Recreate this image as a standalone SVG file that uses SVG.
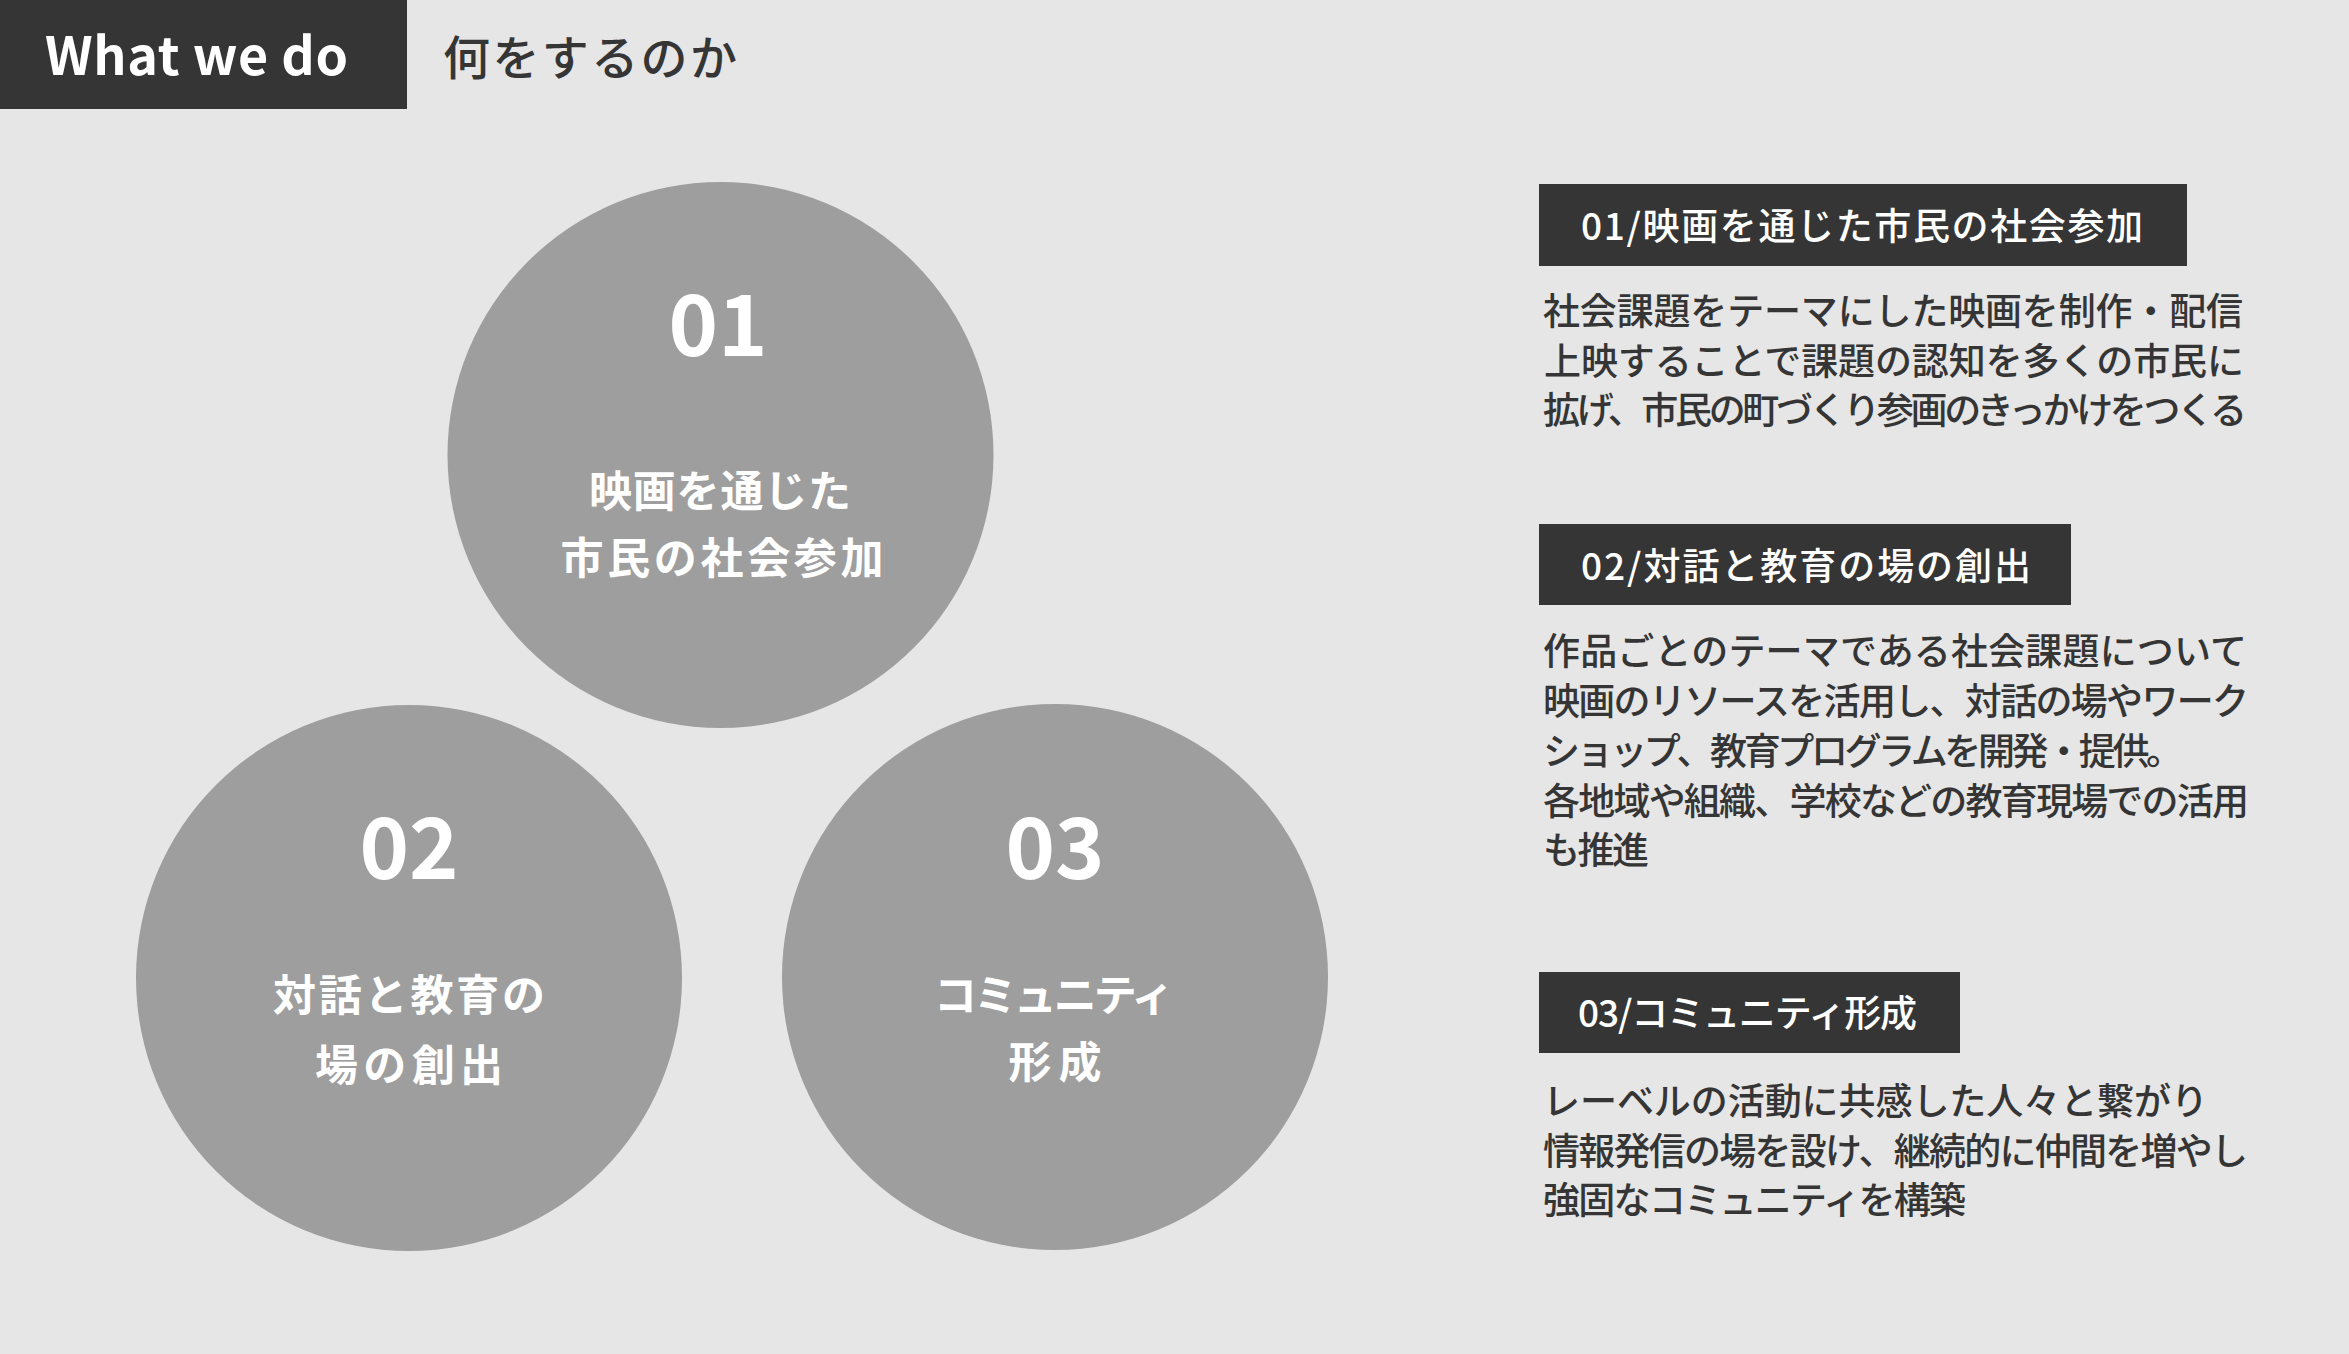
<svg xmlns="http://www.w3.org/2000/svg" width="2349" height="1354" viewBox="0 0 2349 1354">
<style>
text{font-family:"Noto Sans CJK JP","Noto Sans",sans-serif;}
.bg{fill:#e6e6e6;}
.dark{fill:#353535;}
.circ{fill:#9e9e9e;}
.num{fill:#ffffff;font-size:84px;font-weight:700;text-anchor:middle;}
.ctext{fill:#ffffff;font-size:43px;font-weight:700;text-anchor:middle;}
.label{fill:#ffffff;font-size:37px;font-weight:500;}
.body{fill:#353535;font-size:37px;font-weight:500;}
.title-en{fill:#ffffff;font-size:52px;font-weight:700;}
.title-ja{fill:#353535;font-size:47px;font-weight:500;}
</style>
<rect class="bg" x="0" y="0" width="2349" height="1354"/>

<g id="header">
  <rect class="dark" x="0" y="0" width="407" height="109"/>
  <text class="title-en" x="45" y="75" textLength="303" lengthAdjust="spacing">What we do</text>
  <text class="title-ja" x="443" y="75" textLength="294" lengthAdjust="spacing">何をするのか</text>
</g>

<g id="connectors"></g>

<g id="circle-01">
  <circle class="circ" cx="720.5" cy="455" r="273"/>
  <text class="num" x="718" y="356">01</text>
  <text class="ctext" x="720" y="507" textLength="262" lengthAdjust="spacing">映画を通じた</text>
  <text class="ctext" x="722" y="574" textLength="323" lengthAdjust="spacing">市民の社会参加</text>
</g>

<g id="circle-02">
  <circle class="circ" cx="409" cy="978" r="273"/>
  <text class="num" x="409" y="879">02</text>
  <text class="ctext" x="409" y="1011" textLength="272" lengthAdjust="spacing">対話と教育の</text>
  <text class="ctext" x="409" y="1081" textLength="188" lengthAdjust="spacing">場の創出</text>
</g>

<g id="circle-03">
  <circle class="circ" cx="1055" cy="977" r="273"/>
  <text class="num" x="1055" y="879">03</text>
  <text class="ctext" x="1054" y="1011" textLength="240" lengthAdjust="spacing">コミュニティ</text>
  <text class="ctext" x="1055" y="1078" textLength="93" lengthAdjust="spacing">形成</text>
</g>

<g id="item-01">
  <rect class="dark" x="1539" y="184" width="648" height="82"/>
  <text class="label" x="1581" y="240" textLength="562" lengthAdjust="spacing">01/映画を通じた市民の社会参加</text>
  <text class="body" x="1543" y="325" textLength="700" lengthAdjust="spacing">社会課題をテーマにした映画を制作・配信</text>
  <text class="body" x="1544" y="375" textLength="700" lengthAdjust="spacing">上映することで課題の認知を多くの市民に</text>
  <text class="body" x="1543" y="424" textLength="704" lengthAdjust="spacing">拡げ、市民の町づくり参画のきっかけをつくる</text>
</g>

<g id="item-02">
  <rect class="dark" x="1539" y="524" width="532" height="81"/>
  <text class="label" x="1581" y="580" textLength="450" lengthAdjust="spacing">02/対話と教育の場の創出</text>
  <text class="body" x="1543" y="665" textLength="704" lengthAdjust="spacing">作品ごとのテーマである社会課題について</text>
  <text class="body" x="1543" y="715" textLength="706" lengthAdjust="spacing">映画のリソースを活用し、対話の場やワーク</text>
  <text class="body" x="1543" y="765" textLength="640" lengthAdjust="spacing">ショップ、教育プログラムを開発・提供。</text>
  <text class="body" x="1543" y="815" textLength="706" lengthAdjust="spacing">各地域や組織、学校などの教育現場での活用</text>
  <text class="body" x="1543" y="864" textLength="106" lengthAdjust="spacing">も推進</text>
</g>

<g id="item-03">
  <rect class="dark" x="1539" y="972" width="421" height="81"/>
  <text class="label" x="1578" y="1027" textLength="339" lengthAdjust="spacing">03/コミュニティ形成</text>
  <text class="body" x="1543" y="1115" textLength="665" lengthAdjust="spacing">レーベルの活動に共感した人々と繋がり</text>
  <text class="body" x="1543" y="1165" textLength="705" lengthAdjust="spacing">情報発信の場を設け、継続的に仲間を増やし</text>
  <text class="body" x="1543" y="1214" textLength="423" lengthAdjust="spacing">強固なコミュニティを構築</text>
</g>
</svg>
